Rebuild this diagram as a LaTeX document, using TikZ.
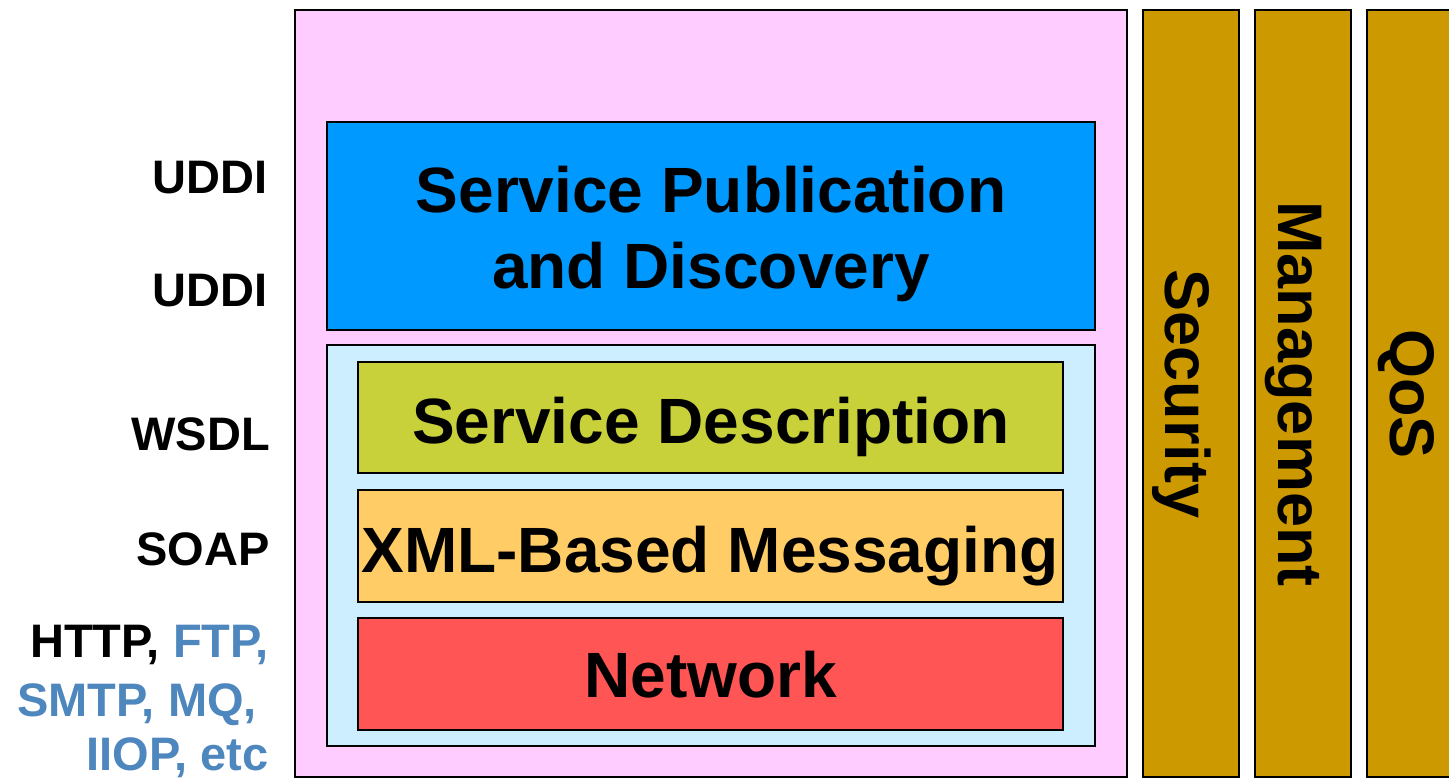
\documentclass[tikz,border=0pt]{standalone}
\usepackage{fontspec}
\setmainfont{Liberation Sans}
\definecolor{pinkc}{RGB}{255,204,255}
\definecolor{bluec}{RGB}{0,153,255}
\definecolor{lbluec}{RGB}{204,238,255}
\definecolor{greenc}{RGB}{200,208,58}
\definecolor{orangec}{RGB}{255,204,102}
\definecolor{redc}{RGB}{255,85,85}
\definecolor{goldc}{RGB}{204,153,0}
\definecolor{protoc}{RGB}{78,134,190}
\begin{document}
\begin{tikzpicture}[x=1pt,y=-1pt,
  box/.style={draw=black,line width=2.4pt},
  big/.style={font=\fontsize{64}{75}\selectfont\bfseries, inner sep=0pt, anchor=base},
  side/.style={font=\fontsize{63}{75}\selectfont\bfseries, inner sep=0pt, anchor=base, rotate=-90},
  lbl/.style={font=\fontsize{47}{56}\selectfont\bfseries, inner sep=0pt, anchor=base east}]
\useasboundingbox (0,0) rectangle (1449,778);
% outer stack
\draw[box, fill=pinkc] (295,10) rectangle (1127,777);
\draw[box, fill=goldc] (1143,10) rectangle (1239,777);
\draw[box, fill=goldc] (1255,10) rectangle (1351,777);
\draw[box, fill=goldc] (1367,10) rectangle (1463,777);
% inner boxes
\draw[box, fill=bluec] (327,122) rectangle (1095,330);
\draw[box, fill=lbluec] (327,345) rectangle (1095,746);
\draw[box, fill=greenc] (358,362) rectangle (1063,473);
\draw[box, fill=orangec] (358,490) rectangle (1063,602);
\draw[box, fill=redc] (358,618) rectangle (1063,730);
% box texts
\node[big] (spd1) at (711,213) {Service Publication};
\node[big] (spd2) at (711,288) {and Discovery};
\node[big] (sd) at (711,443) {Service Description};
\node[big] (xml) at (710,572) {XML-Based Messaging};
\node[big] (net) at (711,697) {Network};
% side columns
\node[side] (sec) at (1165,394) {Security};
\node[side] (mgmt) at (1278,394) {Management};
\node[side] (qos) at (1390,394) {QoS};
% left labels
\node[lbl] (uddi1) at (268,194) {UDDI};
\node[lbl] (uddi2) at (268,306) {UDDI};
\node[lbl] (wsdl) at (270,450) {WSDL};
\node[lbl] (soap) at (270,565) {SOAP};
\node[lbl] (http) at (269,657) {HTTP, \textcolor{protoc}{FTP,}};
\node[lbl, text=protoc] (smtp) at (257,716) {SMTP, MQ,};
\node[lbl, text=protoc] (iiop) at (269,770) {IIOP, etc};
\end{tikzpicture}
\end{document}
